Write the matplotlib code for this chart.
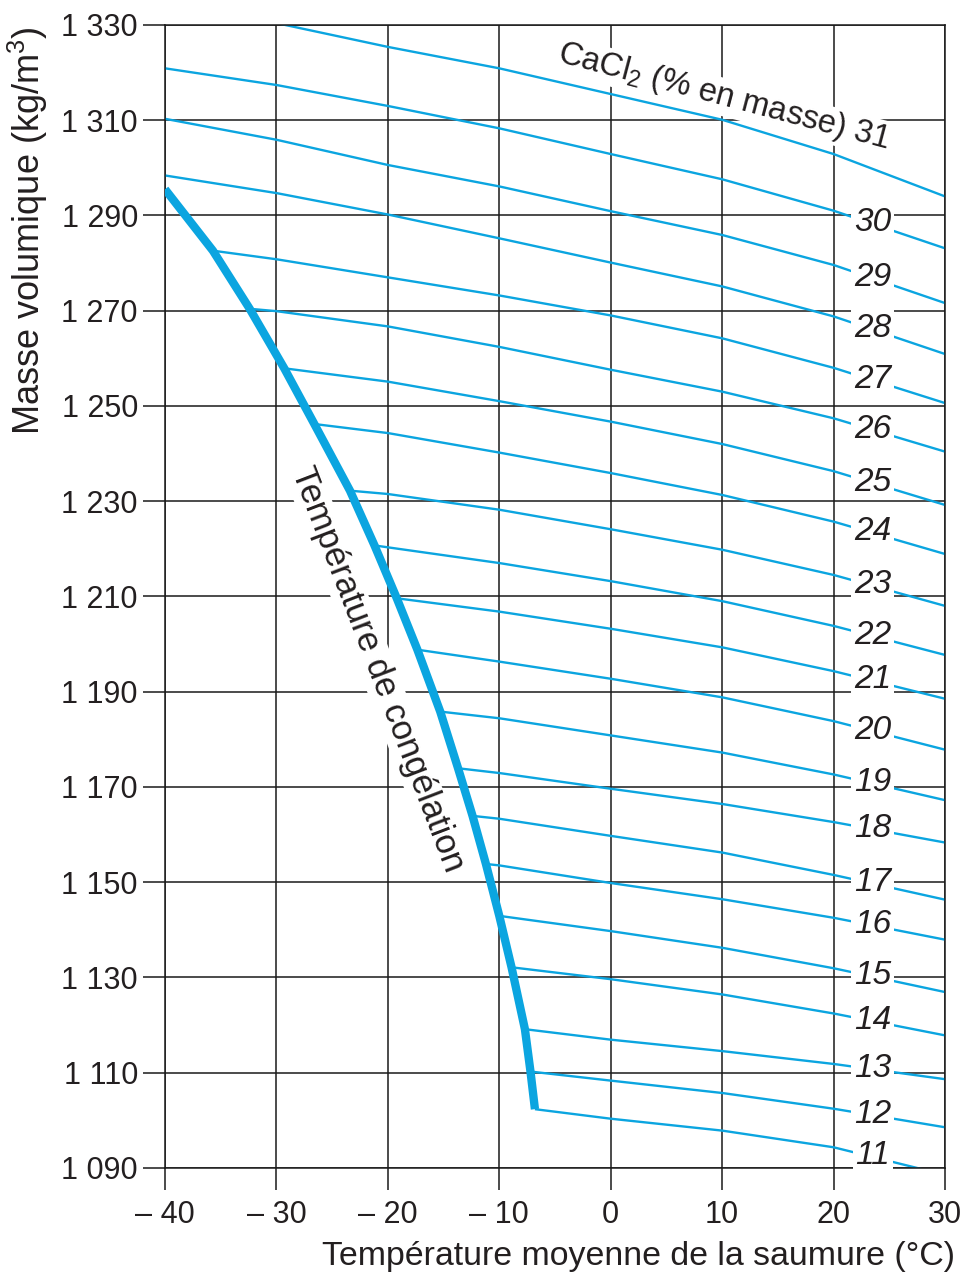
import numpy as np
import matplotlib.pyplot as plt

plt.rcParams['font.family'] = ['Liberation Sans', 'DejaVu Sans']
plt.rcParams['mathtext.fontset'] = 'custom'
plt.rcParams['mathtext.rm'] = 'Liberation Sans'
plt.rcParams['mathtext.it'] = 'Liberation Sans:italic'

# températures de lecture (°C)
temp = [-40, -30, -20, -10, 0, 10, 20, 30]

# masse volumique (kg/m3) pour chaque teneur en CaCl2, None sous la congélation
rho_31 = [None, 1330.4, 1325.4, 1320.9, 1315.5, 1310.1, 1302.9, 1294.0]
rho_30 = [1320.9, 1317.4, 1313.0, 1308.3, 1302.9, 1297.6, 1291.0, 1283.1]
rho_29 = [1310.3, 1305.9, 1300.6, 1296.1, 1290.9, 1285.9, 1279.6, 1271.6]
rho_28 = [1298.4, 1294.7, 1290.2, 1285.2, 1280.1, 1275.1, 1268.8, 1260.9]
rho_27 = [None, 1280.8, 1277.0, 1273.2, 1269.0, 1264.2, 1258.0, 1250.6]
rho_26 = [None, 1269.9, 1266.7, 1262.4, 1257.6, 1253.0, 1247.4, 1240.4]
rho_25 = [None, None, 1255.1, 1251.0, 1246.7, 1242.0, 1236.3, 1229.2]
rho_24 = [None, None, 1244.3, 1240.2, 1235.9, 1231.3, 1225.7, 1218.9]
rho_23 = [None, None, 1231.5, 1228.2, 1224.1, 1219.8, 1214.5, 1208.0]
rho_22 = [None, None, 1220.3, 1217.0, 1213.2, 1209.0, 1203.8, 1197.7]
rho_21 = [None, None, None, 1206.8, 1203.2, 1199.3, 1194.3, 1188.5]
rho_20 = [None, None, None, 1196.3, 1192.7, 1188.8, 1183.8, 1177.8]
rho_19 = [None, None, None, 1184.4, 1180.8, 1177.2, 1172.6, 1167.2]
rho_18 = [None, None, None, 1172.9, 1169.6, 1166.4, 1162.6, 1158.3]
rho_17 = [None, None, None, 1163.3, 1159.7, 1156.2, 1151.5, 1146.3]
rho_16 = [None, None, None, 1153.5, 1149.8, 1146.4, 1142.5, 1137.9]
rho_15 = [None, None, None, None, 1139.7, 1136.2, 1131.9, 1126.9]
rho_14 = [None, None, None, None, 1129.6, 1126.4, 1122.4, 1117.8]
rho_13 = [None, None, None, None, 1116.9, 1114.5, 1111.8, 1108.6]
rho_12 = [None, None, None, None, 1108.3, 1105.7, 1102.4, 1098.5]
rho_11 = [None, None, None, None, 1100.3, 1097.8, 1094.3, 1088.5]

teneurs = list(range(31, 10, -1))
series = [rho_31, rho_30, rho_29, rho_28, rho_27, rho_26, rho_25, rho_24,
          rho_23, rho_22, rho_21, rho_20, rho_19, rho_18, rho_17, rho_16,
          rho_15, rho_14, rho_13, rho_12, rho_11]

# courbe de congélation : extrémité haute puis départs des courbes 27 % à 11 %
congel_t = [-40.0, -35.7, -32.4, -29.3, -26.6, -23.4, -21.2, -19.2, -17.35,
            -15.3, -13.7, -12.4, -11.2, -10.0, -8.9, -7.7, -7.2, -6.8]
congel_rho = [1295.5, 1282.6, 1270.4, 1257.9, 1246.2, 1232.2, 1220.7, 1209.6,
              1198.8, 1185.8, 1173.9, 1163.9, 1153.8, 1142.9, 1132.1, 1119.1,
              1110.2, 1102.3]

x_ticks = [-40, -30, -20, -10, 0, 10, 20, 30]
x_labels = ['\u2013 40', '\u2013 30', '\u2013 20', '\u2013 10', '0', '10', '20', '30']
y_ticks = list(range(1090, 1331, 20))
y_labels = ['1 %03d' % (v - 1000) for v in y_ticks]

bleu = '#0ba5e0'
noir = '#1a1a1a'
texte = '#231f20'

fig = plt.figure(figsize=(9.67, 12.78), dpi=100)
ax = fig.add_axes([0.17063, 0.08627, 0.80662, 0.89417])

for c, rho in zip(teneurs, series):
    t = [x for x, r in zip(temp, rho) if r is not None]
    r = [v for v in rho if v is not None]
    if c <= 27:
        i = 28 - c
        t = [congel_t[i]] + t
        r = [congel_rho[i]] + r
    ax.plot(t, r, color=bleu, lw=1.7, zorder=2, solid_capstyle='butt',
            solid_joinstyle='round')
    if c <= 30:
        ax.text(23.5, np.interp(23.5, t, r) + 0.2, str(c), fontsize=24,
                style='italic', color=texte, ha='center', va='center',
                zorder=5, bbox=dict(facecolor='white', edgecolor='none', pad=2))

ax.plot(congel_t, congel_rho, color=bleu, lw=6, zorder=3,
        solid_capstyle='butt', solid_joinstyle='round')

ax.text(-4.9, 1322.3, r'CaCl$_2$ (% en masse) $\mathit{31}$', fontsize=23.5,
        color=texte, rotation=-14.8, rotation_mode='anchor', ha='left',
        va='baseline', zorder=1.5,
        bbox=dict(facecolor='white', edgecolor='none', pad=1))
ax.text(-20.9, 1194.6, 'Température de congélation', fontsize=25,
        color=texte, rotation=-69, rotation_mode='anchor', ha='center',
        va='center', zorder=1.5,
        bbox=dict(facecolor='white', edgecolor='none', pad=1))

ax.set_xlim(-40, 30)
ax.set_ylim(1090, 1330)
ax.set_xticks(x_ticks, x_labels)
ax.set_yticks(y_ticks, y_labels)
ax.set_axisbelow(True)
ax.grid(True, color=noir, lw=1.1)
for s in ax.spines.values():
    s.set_color(noir)
    s.set_linewidth(1.1)
ax.tick_params(direction='out', length=16, width=1.1, color=noir,
               labelsize=22, labelcolor=texte)
ax.tick_params(axis='y', pad=3.5)
ax.tick_params(axis='x', pad=7)

fig.text(955 / 967, 1 - 1256 / 1278, 'Température moyenne de la saumure (°C)',
         fontsize=24.4, color=texte, ha='right', va='center')
fig.text(28 / 967, 1 - 26 / 1278, r'Masse volumique (kg/m$^3$)', fontsize=26,
         color=texte, rotation=90, ha='center', va='top')

fig.savefig('out.png', dpi=100)
